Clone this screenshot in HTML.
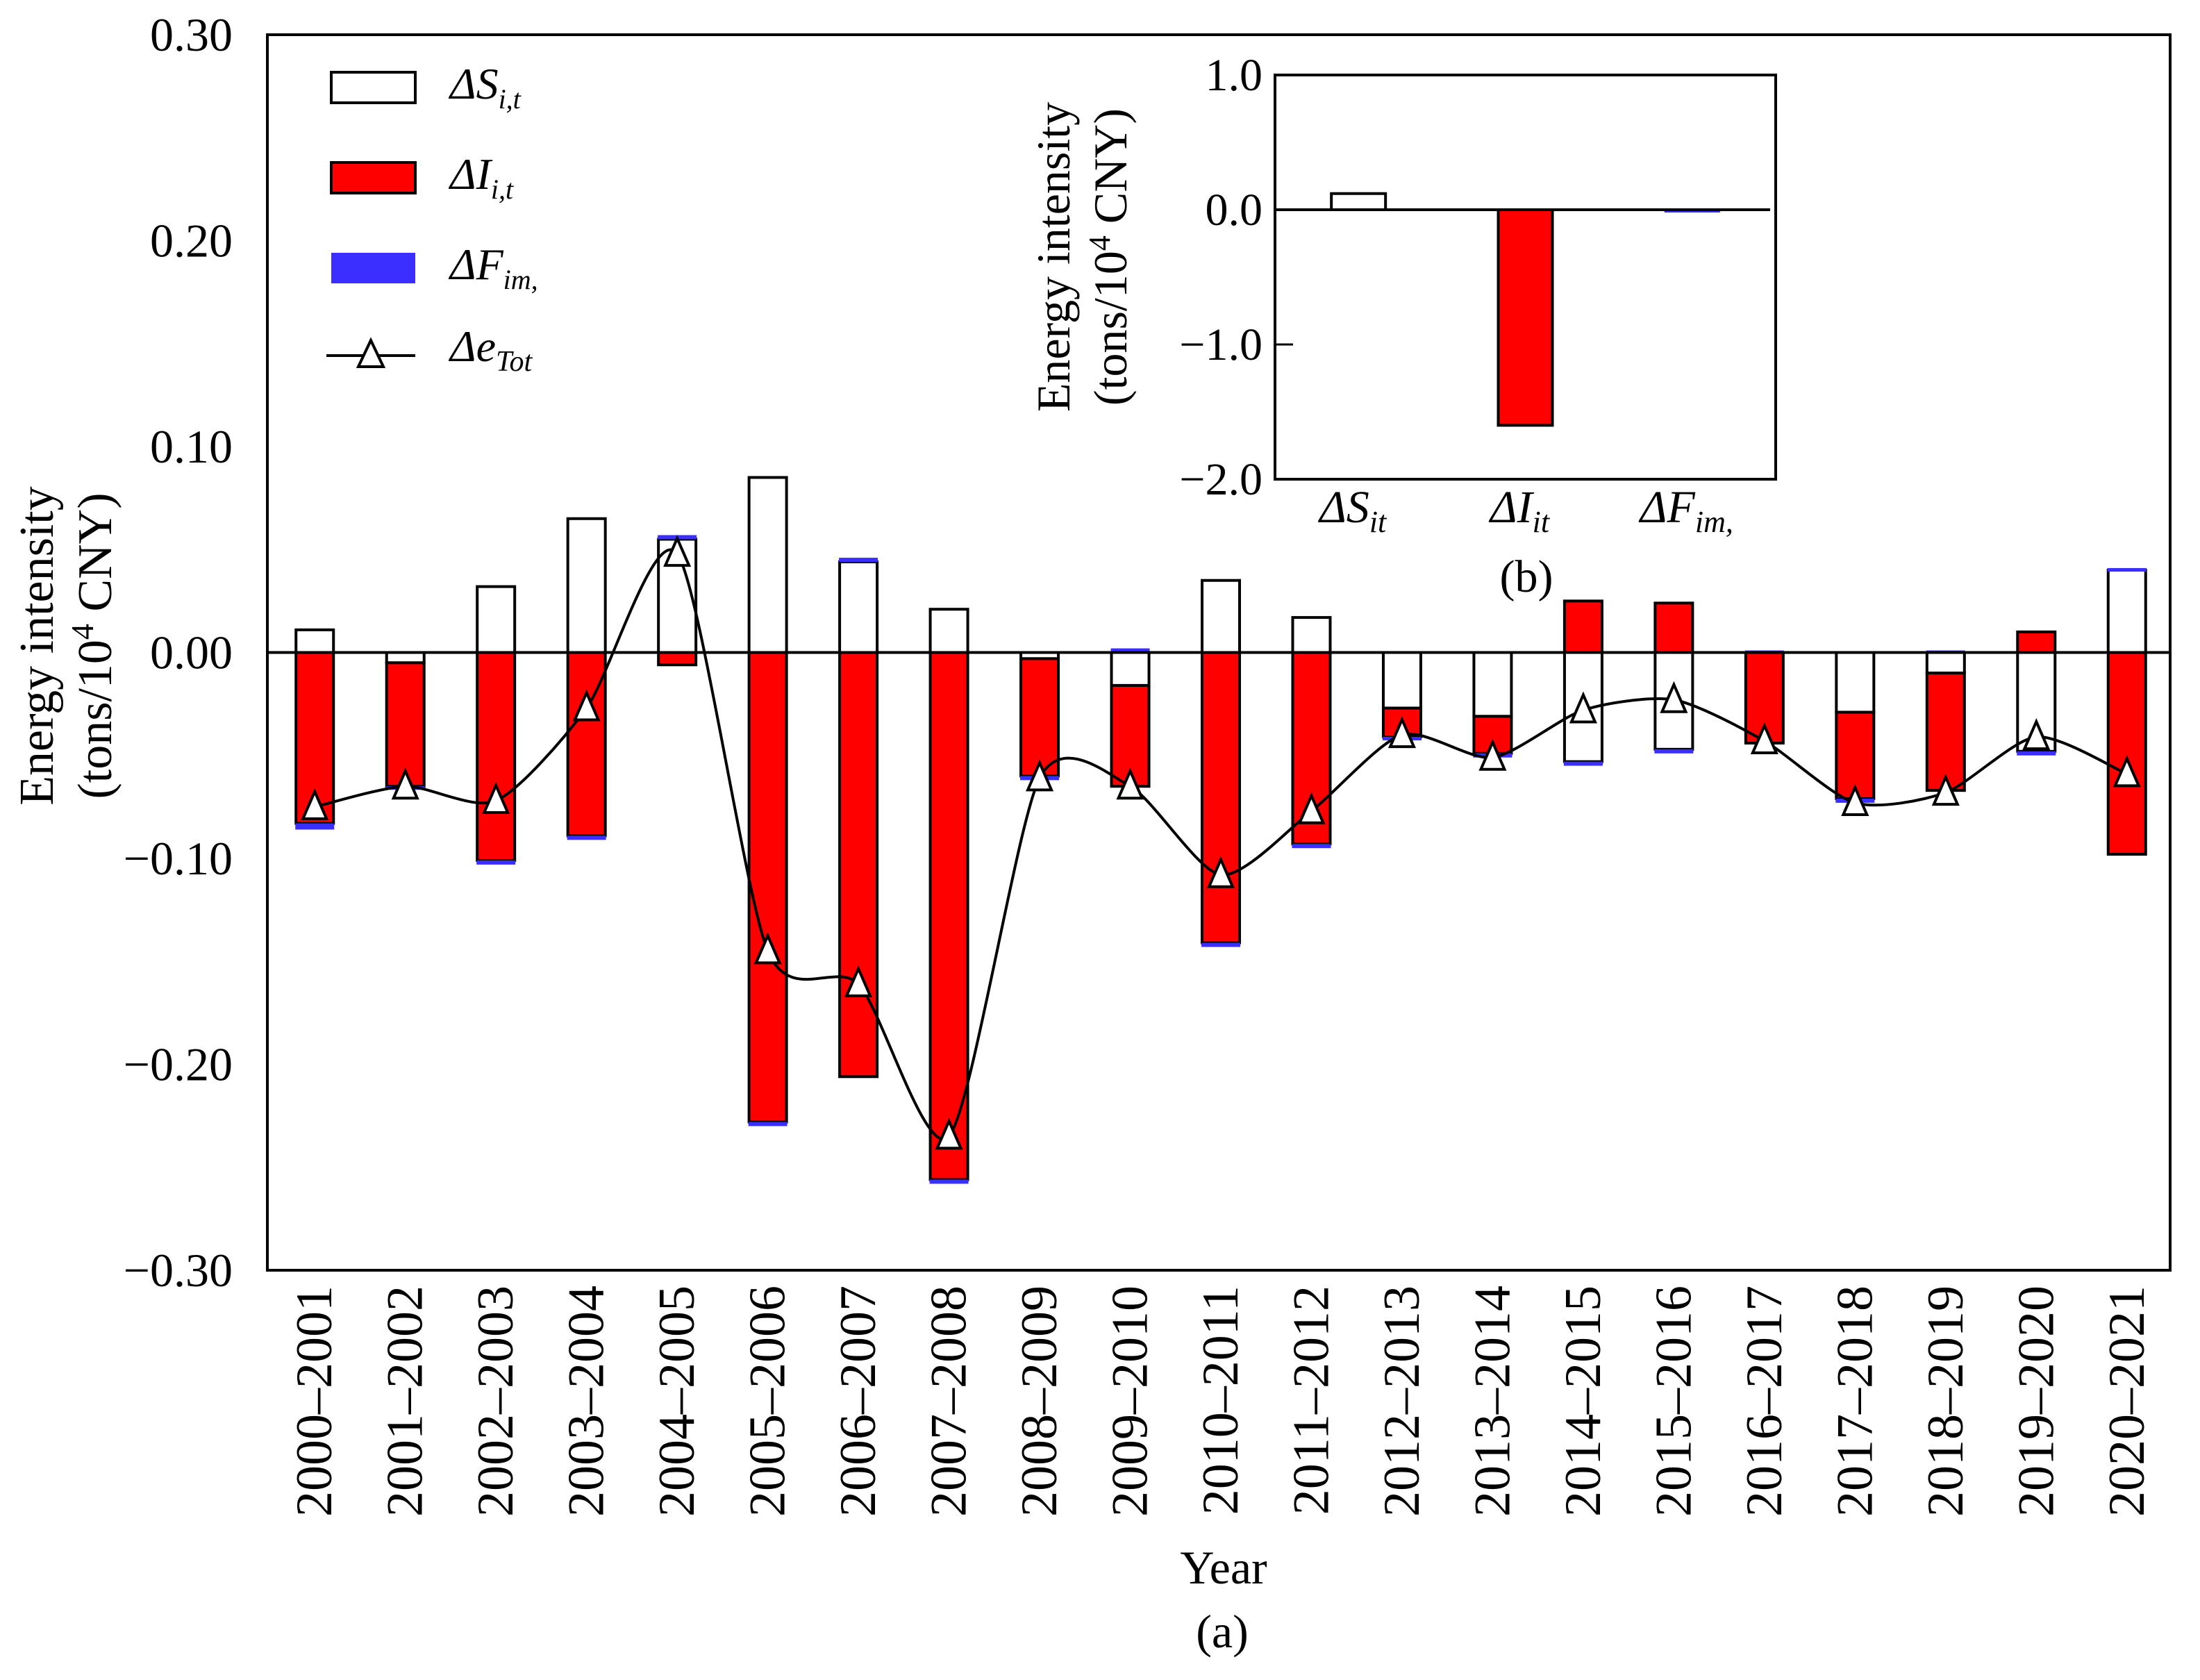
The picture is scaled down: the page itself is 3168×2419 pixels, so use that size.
<!DOCTYPE html>
<html><head><meta charset="utf-8">
<style>
html,body{margin:0;padding:0;background:#fff;}
svg{display:block;font-family:"Liberation Serif",serif;}
</style></head>
<body>
<svg id="chart" width="3168" height="2419" viewBox="0 0 3168 2419"></svg>
<script>
const categories=["2000–2001","2001–2002","2002–2003","2003–2004","2004–2005","2005–2006","2006–2007","2007–2008","2008–2009","2009–2010","2010–2011","2011–2012","2012–2013","2013–2014","2014–2015","2015–2016","2016–2017","2017–2018","2018–2019","2019–2020","2020–2021"];
const seriesS=[0.011,-0.005,0.032,0.065,0.055,0.085,0.044,0.021,-0.003,-0.016,0.035,0.017,-0.027,-0.031,-0.053,-0.047,0,-0.029,-0.010,-0.048,0.040];
const seriesI=[-0.083,-0.060,-0.101,-0.089,-0.006,-0.228,-0.206,-0.256,-0.057,-0.049,-0.141,-0.093,-0.014,-0.018,0.025,0.024,-0.044,-0.042,-0.057,0.010,-0.098];
const seriesF=[-0.003,-0.001,-0.002,-0.002,0.002,-0.002,0.002,-0.002,-0.002,0.002,-0.002,-0.002,-0.001,-0.002,-0.002,-0.002,0.001,-0.002,0.001,-0.002,0.001];
const seriesTot=[-0.075,-0.065,-0.072,-0.027,0.048,-0.145,-0.161,-0.235,-0.061,-0.065,-0.108,-0.077,-0.040,-0.051,-0.028,-0.023,-0.043,-0.073,-0.068,-0.041,-0.059];
const yTicks=[0.30,0.20,0.10,0.00,-0.10,-0.20,-0.30];
const insetCats=["S","I","F"];
const insetValues=[0.12,-1.6,-0.02];
const insetTicks=[1.0,0.0,-1.0,-2.0];

const NS="http://www.w3.org/2000/svg";
const svg=document.getElementById('chart');
function mk(tag,attrs,parent){const e=document.createElementNS(NS,tag);for(const k in attrs)e.setAttribute(k,attrs[k]);(parent||svg).appendChild(e);return e;}

const L=385,R=3125,T=50,B=1829;
const yMin=-0.30,yMax=0.30;
function y(v){return T+(yMax-v)/(yMax-yMin)*(B-T);}
const band=(R-L)/categories.length;
function xc(i){return L+band*(i+0.5)+3;}
const bw=54;
const colors={S:"#ffffff",I:"#ff0000",F:"#3b2fff"};

const frame=mk('rect',{x:L,y:T,width:R-L,height:B-T,fill:'none',stroke:'#000','stroke-width':4});



yTicks.forEach(v=>{
  const t=mk('text',{x:L-50,y:y(v)+23,'font-size':68,'text-anchor':'end',fill:'#000'});
  t.textContent=(v<0?'−':'')+Math.abs(v).toFixed(2);
  
  
});

categories.forEach((c,i)=>{
  let pos=0,neg=0;
  [['S',seriesS[i]],['I',seriesI[i]],['F',seriesF[i]]].forEach(([k,v])=>{
    if(v===0)return;
    let y0,y1;
    if(v>0){y0=pos;y1=pos+v;pos=y1;}else{y0=neg;y1=neg+v;neg=y1;}
    const top=y(Math.max(y0,y1)),bot=y(Math.min(y0,y1));
    let r;
    if(k==='F'){
      r=mk('rect',{x:xc(i)-bw/2-1,y:top,width:bw+2,height:Math.max(bot-top,5),fill:colors.F});
    }else{
      r=mk('rect',{x:xc(i)-bw/2,y:top,width:bw,height:bot-top,fill:colors[k],stroke:'#000','stroke-width':4});
    }
    
    
  });
});

const zl=mk('line',{x1:L,x2:R,y1:y(0),y2:y(0),stroke:'#000','stroke-width':4});



const pts=seriesTot.map((v,i)=>[xc(i),y(v)]);
let d='M'+pts[0][0]+','+pts[0][1];
const k=8;
for(let i=0;i<pts.length-1;i++){
  const p0=pts[Math.max(i-1,0)],p1=pts[i],p2=pts[i+1],p3=pts[Math.min(i+2,pts.length-1)];
  const c1=[p1[0]+(p2[0]-p0[0])/k,p1[1]+(p2[1]-p0[1])/k];
  const c2=[p2[0]-(p3[0]-p1[0])/k,p2[1]-(p3[1]-p1[1])/k];
  d+=' C'+c1+' '+c2+' '+p2;
}
const ln=mk('path',{d:d,fill:'none',stroke:'#000','stroke-width':4});


pts.forEach((p,i)=>{
  const tri=mk('polygon',{points:`${p[0]},${p[1]-22} ${p[0]-17},${p[1]+17} ${p[0]+17},${p[1]+17}`,fill:'#fff',stroke:'#000','stroke-width':4});
  
  
});

categories.forEach((c,i)=>{
  const t=mk('text',{x:0,y:0,'font-size':74,'text-anchor':'end',fill:'#000',transform:`translate(${xc(i)+24},${B+22}) rotate(-90)`});
  t.textContent=c;
  
  
});

function txt(x,yy,s,size,name,extra){const t=mk('text',Object.assign({x:x,y:yy,'font-size':size,'text-anchor':'middle',fill:'#000'},extra||{}));t.innerHTML=s;return t;}
txt(1762,2280,'Year',68,'x-axis-title');
txt(1760,2372,'(a)',68,'panel-a-label');
txt(0,0,'Energy intensity',70,'y-axis-title',{transform:'translate(76,930) rotate(-90)'});
txt(0,0,'(tons/10<tspan dy="-26" font-size="46">4</tspan><tspan dy="26"> CNY)</tspan>',70,'y-axis-unit',{transform:'translate(160,930) rotate(-90)'});

const lg=[['S','ΔS','i,t'],['I','ΔI','i,t'],['F','ΔF','im,']];
lg.forEach((e,i)=>{
  const yy=104+i*130;
  const r=mk('rect',{x:477,y:yy,width:121,height:44,fill:colors[e[0]],stroke:e[0]==='F'?'none':'#000','stroke-width':4});
  
  
  txt(648,yy+38,`${e[1]}<tspan font-size="40" dy="14">${e[2]}</tspan>`,64,'legend-entry-'+e[0],{'text-anchor':'start','font-style':'italic'});
});
const ll=mk('line',{x1:470,x2:598,y1:512,y2:512,stroke:'#000','stroke-width':4});

const lt=mk('polygon',{points:'534,490 516,528 552,528',fill:'#fff',stroke:'#000','stroke-width':4});

txt(648,520,'Δe<tspan font-size="42" dy="14">Tot</tspan>',64,'legend-entry-total',{'text-anchor':'start','font-style':'italic'});

const iL=1836,iR=2557,iT=108,iB=690;
const iMin=-2.0,iMax=1.0;
function iy(v){return iT+(iMax-v)/(iMax-iMin)*(iB-iT);}
const ib=(iR-iL)/insetCats.length;
const inset=mk('rect',{x:iL,y:iT,width:iR-iL,height:iB-iT,fill:'#fff',stroke:'#000','stroke-width':4});

insetTicks.forEach(v=>{
  txt(iL-18,iy(v)+22,(v<0?'−':'')+Math.abs(v).toFixed(1),66,'inset-y-tick-label',{'text-anchor':'end'});
  const tk=mk('line',{x1:iL,x2:iL+26,y1:iy(v),y2:iy(v),stroke:'#000','stroke-width':3});
  
});
insetCats.forEach((kk,i)=>{
  const v=insetValues[i];const cx=iL+ib*(i+0.5);
  const top=iy(Math.max(0,v)),bot=iy(Math.min(0,v));
  const r=kk==='F'?mk('rect',{x:cx-40,y:top,width:80,height:Math.max(bot-top,4),fill:colors.F})
                 :mk('rect',{x:cx-39,y:top,width:78,height:bot-top,fill:colors[kk],stroke:'#000','stroke-width':4});
  
});
const iz=mk('line',{x1:iL,x2:iR-8,y1:iy(0),y2:iy(0),stroke:'#000','stroke-width':4});

const il=[['ΔS','it'],['ΔI','it'],['ΔF','im,']];
il.forEach((e,i)=>{txt(iL+ib*(i+0.5)-8,752,`${e[0]}<tspan font-size="44" dy="14">${e[1]}</tspan>`,66,'inset-x-tick-label',{'font-style':'italic'});});
txt(2198,852,'(b)',66,'panel-b-label');
txt(0,0,'Energy intensity',68,'inset-y-axis-title',{transform:'translate(1540,370) rotate(-90)'});
txt(0,0,'(tons/10<tspan dy="-24" font-size="44">4</tspan><tspan dy="24"> CNY)</tspan>',68,'inset-y-axis-unit',{transform:'translate(1622,370) rotate(-90)'});
</script>
</body></html>
